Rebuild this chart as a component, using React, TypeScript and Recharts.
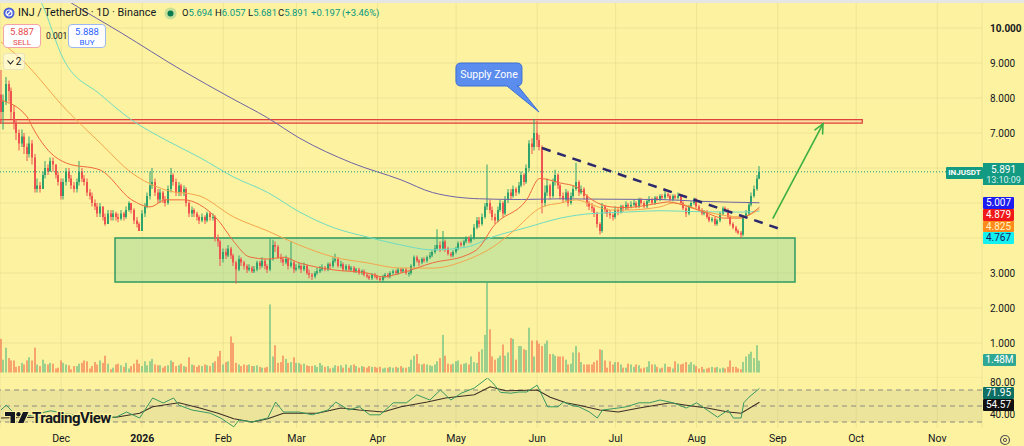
import React from 'react';
import {
  ComposedChart, Bar, Line, XAxis, YAxis, CartesianGrid,
  ReferenceArea, ReferenceLine, ReferenceDot,
} from 'recharts';

// ---------- DATA ----------
const closeP = [
  7.6,7.9,8.4,8.2,7.6,7.3,7.0,6.7,6.9,6.6,
  6.4,6.7,6.3,5.4,5.5,5.4,5.8,6.0,5.9,6.2,
  6.1,5.8,5.6,5.2,5.6,5.9,5.7,5.5,5.4,5.6,
  5.9,5.7,5.6,5.3,5.2,5.0,4.9,4.7,4.9,4.6,
  4.4,4.7,4.6,4.7,4.6,4.55,4.7,4.6,4.8,5.0,
  4.8,4.5,4.4,4.2,4.7,4.9,5.2,5.5,5.6,5.3,
  5.1,5.3,5.1,5.0,5.4,5.8,5.6,5.3,5.5,5.3,
  5.4,5.0,4.7,4.8,4.7,4.6,4.5,4.6,4.5,4.7,
  4.6,4.6,4.0,3.9,3.4,3.6,3.5,3.7,3.5,3.3,
  3.1,3.4,3.3,3.2,3.1,3.15,3.05,3.1,3.3,3.2,
  3.35,3.2,3.1,3.4,3.8,3.75,3.45,3.4,3.3,3.4,
  3.2,3.3,3.1,3.15,3.2,3.1,3.2,3.0,2.95,2.9,
  3.0,3.05,3.1,3.15,3.1,3.25,3.2,3.35,3.4,3.2,
  3.25,3.1,3.2,3.1,3.15,3.05,3.1,3.0,3.05,2.95,
  2.9,2.85,2.95,2.9,2.85,2.8,2.9,2.95,2.9,3.0,
  3.05,3.0,3.1,3.05,3.1,3.0,3.0,3.2,3.45,3.35,
  3.3,3.4,3.35,3.45,3.5,3.6,3.7,3.8,3.7,3.9,
  3.7,3.55,3.5,3.6,3.7,3.85,3.8,3.9,4.0,3.9,
  4.0,4.3,4.5,4.4,4.6,4.9,5.0,4.8,4.6,4.5,
  4.8,5.0,4.7,5.1,5.3,5.2,5.4,5.3,5.5,5.8,
  5.6,6.0,6.7,6.6,7.0,6.8,6.6,5.0,5.3,5.5,
  5.2,5.6,5.8,5.5,5.2,5.1,5.3,5.0,5.2,5.4,
  5.6,5.3,5.4,5.2,5.0,4.9,4.85,4.7,4.4,4.2,
  4.9,4.8,4.7,4.65,4.6,4.8,4.75,4.9,4.85,4.95,
  4.9,4.95,5.0,4.9,5.1,5.0,4.9,5.05,5.1,5.0,
  5.15,5.1,5.2,5.15,5.25,5.2,5.1,5.2,5.15,5.2,
  5.0,4.85,4.7,4.9,5.0,5.1,4.9,4.8,4.7,4.75,
  4.6,4.5,4.55,4.4,4.5,4.7,4.85,4.8,4.6,4.4,
  4.3,4.2,4.15,4.1,4.6,4.7,4.95,5.2,5.4,5.694,
  5.891,
];
const firstOpen = 8.1;
const highP = [
  8.8,8.1,8.6,8.5,8.3,7.8,7.4,7.1,7.1,7.0,
  6.7,6.9,6.8,6.4,5.7,5.6,5.9,6.2,6.1,6.3,
  6.3,6.1,5.9,5.7,5.7,6.0,6.0,5.8,5.6,5.7,
  6.2,6.0,5.8,5.7,5.4,5.3,5.1,5.0,5.0,4.9,
  4.7,4.8,4.8,4.8,4.75,4.7,4.8,4.75,4.9,5.05,
  5.0,4.85,4.6,4.45,4.8,5.0,5.3,5.9,6.0,5.7,
  5.4,5.4,5.35,5.2,5.5,6.0,5.85,5.7,5.6,5.55,
  5.5,5.45,5.05,4.9,4.85,4.75,4.65,4.7,4.65,4.75,
  4.75,4.7,4.65,4.1,3.95,3.7,3.7,3.8,3.75,3.55,
  3.35,3.5,3.45,3.35,3.25,3.25,3.2,3.2,3.35,3.35,
  3.45,3.4,3.25,4.0,3.95,3.9,3.8,3.55,3.45,3.5,
  3.45,3.9,3.35,3.25,3.3,3.25,3.3,3.25,3.1,3.0,
  3.05,3.15,3.2,3.25,3.2,3.3,3.3,3.45,3.55,3.45,
  3.35,3.3,3.25,3.25,3.2,3.2,3.15,3.15,3.1,3.1,
  3.0,2.95,3.0,3.0,2.95,2.9,2.95,3.0,3.0,3.05,
  3.1,3.1,3.15,3.15,3.15,3.15,3.05,3.25,3.5,3.5,
  3.4,3.45,3.45,3.5,3.6,3.65,3.8,4.25,3.9,4.2,
  3.95,3.75,3.6,3.65,3.75,3.9,3.9,3.95,4.05,4.05,
  4.1,4.4,4.6,4.6,4.7,5.0,6.1,5.1,4.9,4.7,
  4.9,5.1,5.05,5.2,5.4,5.4,5.5,5.45,5.6,5.9,
  5.85,6.1,6.8,6.85,7.4,7.35,6.95,6.65,5.5,5.7,
  5.55,5.7,5.95,5.85,5.55,5.3,5.4,5.35,5.3,5.5,
  6.15,5.65,5.5,5.45,5.25,5.05,5.0,4.9,4.75,4.45,
  5.0,4.95,4.85,4.8,4.7,4.9,4.85,4.95,4.95,5.05,
  5.0,5.05,5.1,5.05,5.15,5.15,5.05,5.1,5.2,5.15,
  5.2,5.2,5.25,5.25,5.4,5.3,5.25,5.25,5.25,5.3,
  5.25,5.05,4.9,4.95,5.05,5.15,5.15,4.95,4.85,4.8,
  4.8,4.65,4.6,4.6,4.55,4.75,4.9,4.9,4.85,4.65,
  4.45,4.35,4.25,4.2,4.65,4.8,5.0,5.3,5.5,5.8,
  6.057,
];
const lowP = [
  7.3,7.1,7.8,7.9,7.4,7.1,6.8,6.5,6.6,6.4,
  6.2,6.3,6.1,5.3,5.3,5.3,5.4,5.7,5.8,5.9,
  5.9,5.7,5.5,5.1,5.1,5.5,5.6,5.4,5.3,5.3,
  5.5,5.6,5.5,5.2,5.1,4.9,4.8,4.6,4.6,4.5,
  4.35,4.4,4.5,4.5,4.5,4.45,4.5,4.5,4.55,4.75,
  4.7,4.4,4.3,4.2,4.2,4.6,4.85,5.1,5.4,5.2,
  5.0,5.0,5.0,4.9,4.95,5.3,5.5,5.2,5.2,5.2,
  5.2,4.9,4.6,4.6,4.6,4.5,4.4,4.45,4.4,4.45,
  4.5,4.5,3.9,3.75,3.2,3.3,3.4,3.45,3.4,3.2,
  2.7,3.05,3.2,3.1,3.0,3.05,3.0,3.0,3.05,3.1,
  3.15,3.1,3.0,3.05,3.35,3.6,3.4,3.3,3.2,3.25,
  3.1,3.15,3.0,3.05,3.1,3.0,3.05,2.95,2.85,2.8,
  2.85,2.95,3.0,3.05,3.05,3.05,3.1,3.15,3.3,3.15,
  3.15,3.05,3.05,3.05,3.05,3.0,3.0,2.95,2.95,2.9,
  2.85,2.8,2.8,2.85,2.8,2.75,2.75,2.85,2.85,2.85,
  2.95,2.95,2.95,3.0,3.0,2.95,2.9,2.95,3.15,3.3,
  3.2,3.25,3.3,3.3,3.4,3.45,3.55,3.65,3.6,3.65,
  3.6,3.5,3.45,3.45,3.55,3.65,3.75,3.75,3.85,3.85,
  3.85,3.95,4.25,4.3,4.35,4.55,4.8,4.7,4.5,4.4,
  4.45,4.75,4.6,4.65,5.0,5.1,5.15,5.2,5.25,5.45,
  5.5,5.55,5.9,6.4,6.5,6.6,6.5,4.7,4.9,5.2,
  5.1,5.15,5.5,5.4,5.1,5.0,5.05,4.9,4.95,5.15,
  5.35,5.2,5.25,5.1,4.9,4.8,4.75,4.6,4.3,4.1,
  4.15,4.7,4.6,4.55,4.5,4.55,4.65,4.7,4.75,4.8,
  4.8,4.85,4.9,4.85,4.85,4.95,4.85,4.85,5.0,4.95,
  4.95,5.05,5.05,5.1,5.1,5.15,5.05,5.05,5.1,5.1,
  4.95,4.8,4.6,4.65,4.85,4.95,4.85,4.75,4.65,4.65,
  4.55,4.45,4.45,4.35,4.35,4.45,4.65,4.75,4.55,4.35,
  4.25,4.15,4.1,4.0,4.05,4.55,4.65,4.9,5.15,5.35,
  5.681,
];
// volume in millions
const volumeM = [
  4.2,1.6,3.1,1.8,1.5,1.5,0.7,0.8,1.2,1.0,
  1.5,1.9,1.5,3.1,1.0,0.8,1.6,1.1,1.0,1.2,
  1.1,0.5,0.6,1.5,1.2,1.0,0.9,0.4,0.8,0.8,
  1.1,1.2,1.5,1.4,0.5,0.8,1.3,1.0,1.5,1.2,
  2.1,1.1,0.4,0.6,1.0,1.1,0.9,0.7,1.2,0.5,
  0.8,1.1,1.6,1.1,0.8,1.4,0.9,1.4,1.7,1.0,
  0.9,0.9,0.6,0.8,0.9,1.5,1.3,0.8,0.9,1.1,
  0.8,0.7,1.9,1.0,0.9,0.7,0.9,0.8,1.0,0.9,
  0.8,1.2,1.4,2.0,2.7,1.0,1.3,1.4,4.5,3.7,
  1.2,1.0,0.8,1.0,0.9,1.0,0.8,0.8,0.9,0.7,
  0.6,0.6,0.7,8.5,2.0,3.4,1.2,1.3,2.1,1.7,
  1.2,1.3,1.9,1.2,1.2,1.0,1.1,0.9,0.8,0.8,
  0.9,0.7,1.2,0.9,0.7,0.8,0.5,0.6,0.9,0.8,
  0.9,0.6,1.0,0.6,0.9,1.0,0.8,0.6,0.8,0.7,
  0.6,0.8,0.7,0.7,0.6,0.7,0.5,0.6,0.6,0.7,
  0.6,0.7,0.6,0.8,0.6,0.6,0.7,1.6,2.1,2.3,
  1.1,1.0,1.1,1.0,0.9,0.8,1.0,1.4,1.8,4.7,
  2.1,1.1,1.0,1.1,1.4,1.5,1.0,1.1,1.2,1.0,
  2.0,1.3,1.2,2.6,2.9,4.7,11.2,5.4,2.0,1.6,
  1.8,2.1,3.5,2.1,2.5,4.3,4.2,1.6,3.3,3.3,
  2.9,2.8,5.6,4.0,2.0,4.0,3.6,3.3,3.6,4.0,
  2.3,2.3,2.1,2.0,2.0,2.0,1.6,1.0,1.1,2.5,
  3.3,2.5,1.3,1.0,1.0,1.0,1.0,1.3,1.5,2.9,
  2.8,1.5,0.6,1.4,1.0,1.3,1.3,1.0,0.6,0.6,
  1.1,1.0,0.7,1.0,0.9,0.5,0.6,0.7,1.4,1.0,
  1.0,0.7,0.5,0.6,1.1,0.7,0.7,0.5,1.4,1.1,
  1.0,1.1,1.3,1.0,1.3,1.0,0.8,0.5,0.7,0.4,
  0.5,0.6,0.7,0.6,0.7,0.5,0.6,0.5,0.7,1.5,
  0.7,0.7,0.5,0.4,1.3,2.0,2.3,2.6,1.8,3.4,
  1.48,
];

// moving averages (day index -> value)
const ma20Idx = [0,10,12,19,25,38,50,57,63,70,76,83,89,95,102,108,114,127,140,146,153,165,178,183,188,201,206,214,220,226,233,239,252,255,263,270,276,283,286,290];
const ma20Val = [7.94,7.46,7.17,6.43,6.14,5.94,5.09,4.89,5.09,5.09,4.95,4.51,3.9,3.46,3.4,3.45,3.29,3.09,3.0,2.89,3.0,3.29,3.51,3.74,4.31,5.09,5.7,5.57,5.46,5.09,4.89,4.87,5.0,5.03,4.89,4.71,4.57,4.57,4.66,4.879];
const ma50Idx = [0,8,25,38,50,63,76,89,102,114,127,140,153,165,178,188,195,207,214,220,226,233,239,252,257,270,283,290];
const ma50Val = [9.6,9.09,7.66,6.71,5.86,5.37,5.2,4.6,4.2,3.8,3.46,3.29,3.14,3.14,3.37,3.74,4.14,4.89,5.0,5.09,4.95,4.8,4.8,4.89,5.0,4.74,4.6,4.825];
const ma100Idx = [11,15,24,38,50,63,76,89,102,114,127,140,153,165,178,188,201,214,226,239,252,267,283,290];
const ma100Val = [11.3,10.8,9.09,8.1,7.37,6.8,6.3,5.74,5.3,4.75,4.3,4.03,3.8,3.66,3.74,4.03,4.3,4.57,4.7,4.74,4.78,4.75,4.74,4.767];
const ma200Idx = [15,27,46,69,88,102,114,134,153,165,183,199,214,229,252,267,290];
const ma200Val = [11.3,10.71,9.86,8.8,8.0,7.43,6.86,6.15,5.66,5.3,5.12,5.1,5.12,5.11,5.1,5.05,5.007];

// RSI and its moving average
const rsiIdx = [0,2,5,11,19,26,34,44,48,53,58,62,66,68,73,80,84,89,91,96,102,105,108,114,119,125,128,133,137,141,145,150,155,159,164,168,172,176,181,186,188,191,195,198,201,205,209,213,215,218,221,225,228,230,236,239,244,248,252,257,262,266,270,274,278,280,283,284,286,290];
const rsiVal = [45,51,41,38,44,40,36,36,42.5,35,60,53.75,60,51,45,41,35,24,32.5,30,35,55,42.5,42.5,39,45,55,45,49,39,39,54,54,64,57.5,70,57.5,66,72.5,85,79,67,66,67.5,67.5,76,49,49,55,51,49,42.5,35,45,47.5,49,54,54,57.5,54,47.5,54,45,36,45,35,35,54,61,71.95];
const rsiMaIdx = [0,11,23,34,44,53,58,68,76,83,89,96,102,108,121,130,137,146,153,163,170,181,187,193,205,210,216,221,229,236,244,256,262,270,278,283,290];
const rsiMaVal = [35,36,35,36,36,41,49,54,47.5,41,34,30,34,41,41,47.5,45,42.5,49,55,60,64,74,69,70,61,54,51,45,42.5,47.5,54,51,47.5,42.5,41,54.57];

// axis ticks
const monthTicks = [23,54,85,113,144,174,205,235,266,297,327,358];
const monthLabels = ['Dec','2026','Feb','Mar','Apr','May','Jun','Jul','Aug','Sep','Oct','Nov'];
const priceTicks = [1,2,3,4,5,6,7,8,9,10];
const hiddenPriceLabels = [4,5]; // covered by the MA value badges in the original
const rsiTicks = [40,80];

// legend (OHLC header)
const ohlcKeys = ['O','H','L','C','',''];
const ohlcVals = ['5.694','6.057','5.681','5.891','+0.197','(+3.46%)'];

// zones / drawings (data coordinates: day index, price)
const demandZone = { x1: 43.6, x2: 303.6, y1: 2.74, y2: 4.0 };
const supplyZone = { x2: 329.3, y1: 7.28, y2: 7.38 };
const trendLine = [{ x: 206.9, y: 6.57 }, { x: 299, y: 4.23 }];
const arrowLine = [{ x: 295.2, y: 4.57 }, { x: 314.3, y: 7.26 }];
const calloutTip = { x: 205.7, y: 7.6 };
const lastPrice = 5.891;
const lastPriceEnd = 361.4;

// ---------- BUILD TABLES ----------
const XMIN = -0.382;
const XMAX = 375.1;
const BG = '#fdf29f';
const UP = '#2ea36e';
const DOWN = '#ef5350';
const TXT = '#131722';

const sparse = (idx: number[], val: number[]) => {
  const m: Record<number, number> = {};
  idx.forEach((k, j) => { m[k] = val[j]; });
  return m;
};
const m20 = sparse(ma20Idx, ma20Val);
const m50 = sparse(ma50Idx, ma50Val);
const m100 = sparse(ma100Idx, ma100Val);
const m200 = sparse(ma200Idx, ma200Val);
const mRsi = sparse(rsiIdx, rsiVal);
const mRsiMa = sparse(rsiMaIdx, rsiMaVal);

const rows = closeP.map((c, i) => {
  const o = i === 0 ? firstOpen : closeP[i - 1];
  const h = Math.max(highP[i], o, c);
  const l = Math.min(lowP[i], o, c);
  return {
    i, o, c, h, l, range: [l, h], vol: volumeM[i],
    ma20: m20[i], ma50: m50[i], ma100: m100[i], ma200: m200[i],
  };
});
const rsiRows = closeP.map((_, i) => ({ i, rsi: mRsi[i], rsiMa: mRsiMa[i] }));

// ---------- SHAPES ----------
const Candle = (p: any) => {
  const { x, y, width, height, payload } = p;
  if (x == null || y == null) return null;
  const top = Math.min(y, y + height);
  const hh = Math.abs(height) || 0.0001;
  const { o, c, h, l } = payload;
  const pix = (v: number) => top + ((h - v) / (h - l || 1)) * hh;
  const color = c >= o ? UP : DOWN;
  const bx = Math.round(x);
  const bTop = pix(Math.max(o, c));
  const bBot = pix(Math.min(o, c));
  return (
    <g>
      <rect x={bx + 0.5} y={top} width={1} height={hh} fill={color} />
      <rect x={bx} y={bTop} width={Math.max(2, width)} height={Math.max(1, bBot - bTop)} fill={color} />
    </g>
  );
};

const VolBar = (p: any) => {
  const { x, y, width, height, payload } = p;
  if (x == null || y == null) return null;
  const up = payload.c >= payload.o;
  return (
    <rect x={Math.round(x)} y={Math.min(y, y + height)} width={Math.max(2, width)} height={Math.abs(height)}
      fill={up ? 'rgba(38,166,120,0.45)' : 'rgba(239,83,60,0.5)'} />
  );
};

const ArrowShape = (p: any) => {
  const { x1, y1, x2, y2 } = p;
  if ([x1, y1, x2, y2].some((v) => v == null || isNaN(v))) return null;
  const ang = Math.atan2(y2 - y1, x2 - x1);
  const L = 10;
  const a1 = ang + Math.PI - 0.45;
  const a2 = ang + Math.PI + 0.45;
  return (
    <g stroke="#3cb043" strokeWidth={1.6} fill="none" strokeLinecap="round">
      <line x1={x1} y1={y1} x2={x2} y2={y2} />
      <polyline points={`${x2 + L * Math.cos(a1)},${y2 + L * Math.sin(a1)} ${x2},${y2} ${x2 + L * Math.cos(a2)},${y2 + L * Math.sin(a2)}`} />
    </g>
  );
};

const Callout = (p: any) => {
  const { cx, cy } = p;
  if (cx == null || cy == null) return null;
  const bx = cx - 83, by = cy - 49, bw = 66, bh = 23, r = 5;
  const d = `M${bx + r},${by} H${bx + bw - r} Q${bx + bw},${by} ${bx + bw},${by + r} V${by + bh - r} Q${bx + bw},${by + bh} ${bx + bw - r},${by + bh} H${cx - 21} L${cx},${cy} L${cx - 32},${by + bh} H${bx + r} Q${bx},${by + bh} ${bx},${by + bh - r} V${by + r} Q${bx},${by} ${bx + r},${by} Z`;
  return (
    <g>
      <path d={d} fill="#5b8def" stroke="#3c6fd6" strokeWidth={1} />
      <text x={bx + bw / 2} y={by + bh / 2} dy="0.35em" textAnchor="middle" fill="#ffffff" fontSize={10.5} fontFamily="Roboto, sans-serif">Supply Zone</text>
    </g>
  );
};

const PriceTick = (p: any) => {
  const { x, y, payload } = p;
  if (hiddenPriceLabels.includes(payload.value)) return null;
  return (
    <text x={x} y={y} dy="0.35em" textAnchor="start" fontSize={10} fill={TXT} fontWeight={payload.value === 10 ? 700 : 400} fontFamily="Roboto, sans-serif">
      {Number(payload.value).toFixed(3)}
    </text>
  );
};
const RsiTick = (p: any) => {
  const { x, y, payload } = p;
  return (
    <text x={x} y={y} dy="0.35em" textAnchor="start" fontSize={10} fill={TXT} fontFamily="Roboto, sans-serif">
      {Number(payload.value).toFixed(2)}
    </text>
  );
};
const MonthTick = (p: any) => {
  const { x, y, payload } = p;
  const k = monthTicks.indexOf(payload.value);
  const label = k >= 0 ? monthLabels[k] : '';
  return (
    <text x={x} y={y} dy="0.71em" textAnchor="middle" fontSize={10.5} fill={TXT} fontWeight={label === '2026' ? 700 : 400} fontFamily="Roboto, sans-serif">
      {label}
    </text>
  );
};

// ---------- SMALL HTML PIECES ----------
const Badge = ({ left, top, w, h, bg, color = '#fff', children, fs = 10 }: any) => (
  <div style={{ position: 'absolute', left, top, width: w, height: h, background: bg, color, fontSize: fs, lineHeight: `${h}px`, textAlign: 'center', borderRadius: 1 }}>
    {children}
  </div>
);

const ohlcLeft = [182, 215, 248, 278, 311, 342];

export default function App() {
  const G = '#089981';
  return (
    <div style={{ position: 'absolute', left: 0, top: 0, width: 1024, height: 446, background: BG, overflow: 'hidden', fontFamily: 'Roboto, "Noto Sans", sans-serif' }}>
      {/* price + volume pane */}
      <div style={{ position: 'absolute', left: 0, top: 0 }}>
        <ComposedChart width={1024} height={378} data={rows} margin={{ top: 0, right: 0, bottom: 0, left: 0 }}>
          <XAxis dataKey="i" type="number" domain={[XMIN, XMAX]} ticks={monthTicks} hide allowDataOverflow />
          <XAxis xAxisId="v" dataKey="i" type="number" domain={[XMIN, XMAX]} hide allowDataOverflow />
          <YAxis yAxisId="p" orientation="right" width={42} domain={[0, 10.8]} ticks={priceTicks} allowDataOverflow
            axisLine={false} tickLine={false} tickSize={6} tickMargin={2} tick={<PriceTick />} interval={0} />
          <YAxis yAxisId="vol" hide domain={[-0.69, 46.56]} allowDataOverflow />
          <CartesianGrid yAxisId="p" stroke="rgba(90,100,40,0.09)" />
          <ReferenceArea yAxisId="p" x1={demandZone.x1} x2={demandZone.x2} y1={demandZone.y1} y2={demandZone.y2}
            fill="#9fd89a" fillOpacity={0.5} stroke="#2f9a62" strokeWidth={1.5} ifOverflow="visible" />
          <ReferenceArea yAxisId="p" x1={XMIN} x2={supplyZone.x2} y1={supplyZone.y1} y2={supplyZone.y2}
            fill="#f7b7a0" fillOpacity={0.35} stroke="#e0413a" strokeWidth={1.3} ifOverflow="visible" />
          <Bar xAxisId="v" yAxisId="vol" dataKey="vol" barSize={2} shape={<VolBar />} isAnimationActive={false} />
          <Line yAxisId="p" dataKey="ma200" type="monotone" stroke="#6d64a6" strokeWidth={1} dot={false} connectNulls isAnimationActive={false} />
          <Line yAxisId="p" dataKey="ma100" type="monotone" stroke="#6fdcc3" strokeWidth={1} dot={false} connectNulls isAnimationActive={false} />
          <Line yAxisId="p" dataKey="ma50" type="monotone" stroke="#f5a54c" strokeWidth={1} dot={false} connectNulls isAnimationActive={false} />
          <Line yAxisId="p" dataKey="ma20" type="monotone" stroke="#ef6a3c" strokeWidth={1} dot={false} connectNulls isAnimationActive={false} />
          <Bar yAxisId="p" dataKey="range" barSize={2} shape={<Candle />} isAnimationActive={false} />
          <ReferenceLine yAxisId="p" segment={[{ x: XMIN, y: lastPrice }, { x: lastPriceEnd, y: lastPrice }]}
            stroke="#139a82" strokeDasharray="1 2" strokeWidth={1} ifOverflow="visible" />
          <ReferenceLine yAxisId="p" segment={trendLine} stroke="#2c2a6c" strokeWidth={2.5} strokeDasharray="9 7" ifOverflow="visible" />
          <ReferenceLine yAxisId="p" segment={arrowLine} shape={ArrowShape} ifOverflow="visible" />
          <ReferenceDot yAxisId="p" x={calloutTip.x} y={calloutTip.y} r={0} shape={Callout} ifOverflow="visible" />
        </ComposedChart>
      </div>

      {/* RSI pane + time axis */}
      <div style={{ position: 'absolute', left: 0, top: 378 }}>
        <ComposedChart width={1024} height={68} data={rsiRows} margin={{ top: 0, right: 0, bottom: 0, left: 0 }}>
          <XAxis dataKey="i" type="number" domain={[XMIN, XMAX]} ticks={monthTicks} interval={0} height={18}
            axisLine={false} tickLine={false} tickSize={0} tickMargin={7} tick={<MonthTick />} allowDataOverflow />
          <YAxis orientation="right" width={42} domain={[22.5, 85]} ticks={rsiTicks} interval={0} allowDataOverflow
            axisLine={false} tickLine={false} tickSize={6} tickMargin={2} tick={<RsiTick />} />
          <CartesianGrid stroke="rgba(90,100,40,0.09)" horizontal={false} />
          <ReferenceArea y1={30} y2={70} x1={XMIN} x2={XMAX} fill="#9e9a8c" fillOpacity={0.16} stroke="none" />
          <ReferenceLine y={70} stroke="#8c8a80" strokeDasharray="5 4" />
          <ReferenceLine y={50} stroke="#8c8a80" strokeDasharray="5 4" />
          <ReferenceLine y={30} stroke="#8c8a80" strokeDasharray="5 4" />
          <Line dataKey="rsiMa" type="linear" stroke="#3b2f25" strokeWidth={1.1} dot={false} connectNulls isAnimationActive={false} />
          <Line dataKey="rsi" type="linear" stroke="#3a9a60" strokeWidth={1} dot={false} connectNulls isAnimationActive={false} />
        </ComposedChart>
      </div>

      {/* top strip */}
      <div style={{ position: 'absolute', left: 0, top: 0, width: 1024, height: 3, background: '#e6e6e3' }} />

      {/* header */}
      <svg style={{ position: 'absolute', left: 3, top: 7 }} width={12} height={12}>
        <circle cx={6} cy={6} r={5.5} fill="#4a5fd8" />
        <circle cx={6} cy={6} r={3} fill="none" stroke="#fff" strokeWidth={1.2} />
        <line x1={4} y1={8} x2={8} y2={4} stroke="#fff" strokeWidth={1.2} />
      </svg>
      <div style={{ position: 'absolute', left: 18, top: 5, fontSize: 10.8, color: TXT, whiteSpace: 'nowrap', lineHeight: '16px' }}>
        INJ / TetherUS · 1D · Binance
      </div>
      <svg style={{ position: 'absolute', left: 164, top: 7 }} width={13} height={13}>
        <circle cx={6.5} cy={6.5} r={6} fill="rgba(8,153,129,0.22)" />
        <circle cx={6.5} cy={6.5} r={3} fill="#077a52" />
      </svg>
      {ohlcVals.map((v, k) => (
        <div key={k} style={{ position: 'absolute', left: ohlcLeft[k], top: 5, fontSize: 9.5, whiteSpace: 'nowrap', lineHeight: '16px', color: TXT }}>
          {ohlcKeys[k]}<span style={{ color: G }}>{v}</span>
        </div>
      ))}
      <div style={{ position: 'absolute', left: 3, top: 24, width: 36, height: 22, background: '#fff', border: '1px solid #f3a5a5', borderRadius: 4, textAlign: 'center', color: '#e5484d', lineHeight: '10px' }}>
        <div style={{ fontSize: 9.5, marginTop: 2 }}>5.887</div>
        <div style={{ fontSize: 8, marginTop: 1 }}>SELL</div>
      </div>
      <div style={{ position: 'absolute', left: 46, top: 31, fontSize: 8.5, color: TXT }}>0.001</div>
      <div style={{ position: 'absolute', left: 68, top: 24, width: 36, height: 22, background: '#fff', border: '1px solid #9db8f0', borderRadius: 4, textAlign: 'center', color: '#2962ff', lineHeight: '10px' }}>
        <div style={{ fontSize: 9.5, marginTop: 2 }}>5.888</div>
        <div style={{ fontSize: 8, marginTop: 1 }}>BUY</div>
      </div>
      <div style={{ position: 'absolute', left: 3, top: 53, width: 20, height: 15, background: 'rgba(255,255,255,0.45)', border: '1px solid rgba(0,0,0,0.08)', borderRadius: 3, fontSize: 10, color: TXT, lineHeight: '15px', textAlign: 'center' }}>
        <svg width={7} height={5} style={{ marginRight: 2, verticalAlign: 'middle' }}><polyline points="0.5,0.5 3.5,4 6.5,0.5" fill="none" stroke={TXT} strokeWidth={1.1} /></svg>2
      </div>

      {/* right-side price badges */}
      <Badge left={946} top={167} w={37} h={12} bg="#139a82" fs={8}><b>INJUSDT</b></Badge>
      <div style={{ position: 'absolute', left: 983, top: 163, width: 41, height: 22, background: '#139a82', color: '#fff', textAlign: 'center' }}>
        <div style={{ fontSize: 10, lineHeight: '11px', marginTop: 1 }}>5.891</div>
        <div style={{ fontSize: 9, lineHeight: '10px', color: '#d9f2ec' }}>13:10:09</div>
      </div>
      <Badge left={983} top={197} w={31} h={11.5} bg="#1c1cf0">5.007</Badge>
      <Badge left={983} top={209} w={31} h={11.5} bg="#f01818">4.879</Badge>
      <Badge left={983} top={220.5} w={31} h={11.5} bg="#ff8a1c" color="#fff4c2">4.825</Badge>
      <Badge left={983} top={232} w={31} h={11.5} bg="#12f0f0" color="#1a1a66">4.767</Badge>
      <Badge left={983} top={354} w={33} h={12} bg="#2fa795">1.48M</Badge>
      <Badge left={983} top={387} w={31} h={11.5} bg="#0d6e64">71.95</Badge>
      <Badge left={983} top={399} w={31} h={11.5} bg="#111111">54.57</Badge>

      {/* TradingView logo */}
      <svg style={{ position: 'absolute', left: 3, top: 404 }} width={116} height={22}>
        <g fill={TXT} stroke={BG} strokeWidth={2} paintOrder="stroke">
          <path d="M2,8 H12 V19 H7.5 V12 H2 Z" />
          <circle cx={15.5} cy={10.2} r={2.2} />
          <path d="M20,8 H25.5 L20.5,19 H15 Z" />
          <text x={29} y={19} fontSize={15} fontWeight={700} letterSpacing={-0.5} fontFamily="Roboto, sans-serif" strokeWidth={3}>TradingView</text>
        </g>
      </svg>

      {/* settings gear */}
      <svg style={{ position: 'absolute', left: 999, top: 434 }} width={12} height={12}>
        <circle cx={6} cy={6} r={4.5} fill="none" stroke="#555" strokeWidth={1.2} />
        <circle cx={6} cy={6} r={1.6} fill="none" stroke="#555" strokeWidth={1} />
      </svg>
    </div>
  );
}
